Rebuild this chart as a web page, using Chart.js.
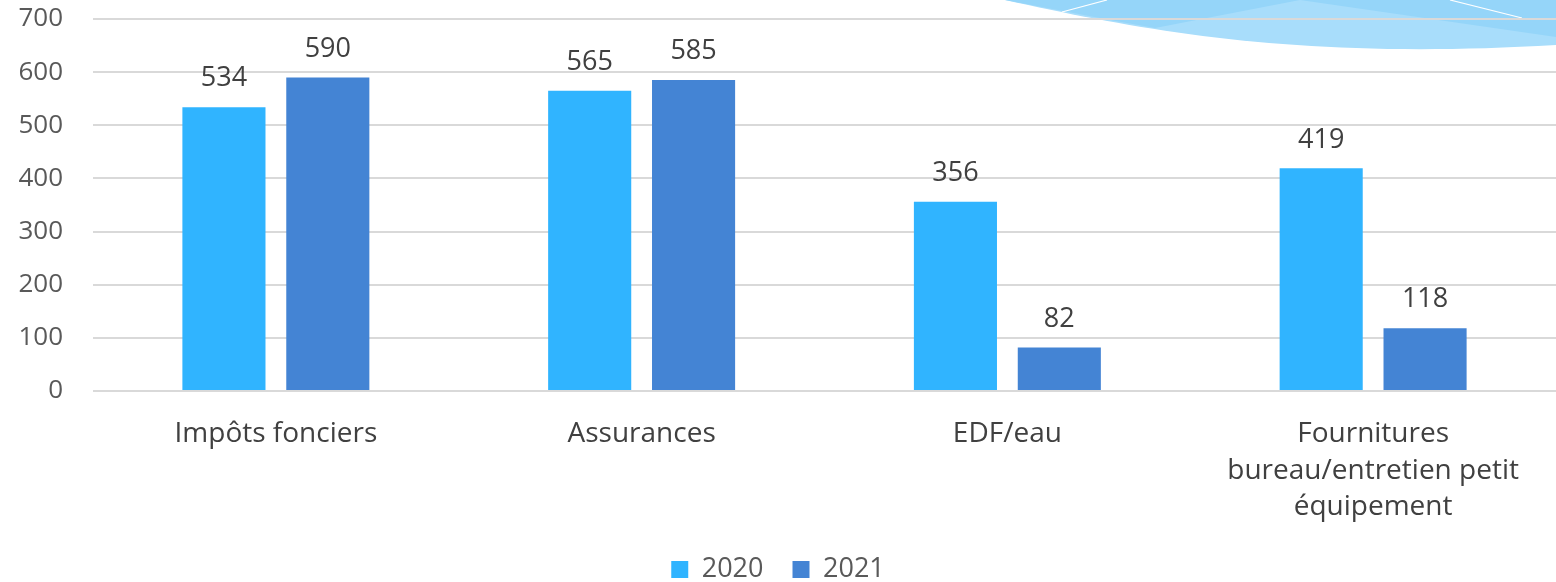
<!DOCTYPE html>
<html>
<head>
<meta charset="utf-8">
<script src="https://cdn.jsdelivr.net/npm/chart.js@4"></script>
<style>
  body { margin: 0; background: #fff; }
  #wrap { width: 1556px; height: 582px; position: relative; }
</style>
</head>
<body>
<div id="wrap"><canvas id="mycanvas"></canvas></div>
<script>
var categories = ['Impôts fonciers', 'Assurances', 'EDF/eau', ['Fournitures', 'bureau/entretien petit', 'équipement']];
var values2020 = [534, 565, 356, 419];
var values2021 = [590, 585, 82, 118];
var seriesNames = ['2020', '2021'];

// light blue swoosh in the top right corner
var swoosh = {
  id: 'swoosh',
  beforeDraw: function(chart) {
    var c = chart.ctx;
    c.save();
    c.fillStyle = '#a8ddfb';
    c.beginPath();
    c.moveTo(1005, 0);
    c.bezierCurveTo(1150, 32, 1300, 60, 1556, 45);
    c.lineTo(1556, 0);
    c.closePath();
    c.fill();

    c.fillStyle = '#95d5f9';
    c.beginPath();
    c.moveTo(1005, 0);
    c.lineTo(1110, 20);
    c.lineTo(1155, 28);
    c.lineTo(1300, 0);
    c.closePath();
    c.fill();
    c.beginPath();
    c.moveTo(1300, 0);
    c.lineTo(1556, 37);
    c.lineTo(1556, 0);
    c.closePath();
    c.fill();

    c.strokeStyle = '#ffffff';
    c.lineWidth = 1.2;
    c.beginPath();
    c.moveTo(1062, 12);
    c.lineTo(1107, 0);
    c.moveTo(1450, 0);
    c.lineTo(1522, 18);
    c.stroke();
    c.restore();
  }
};

var barLabels = {
  id: 'barLabels',
  afterDatasetsDraw: function(chart) {
    var c = chart.ctx;
    c.save();
    c.font = '27px "Open Sans"';
    c.fillStyle = '#404040';
    c.textAlign = 'center';
    c.textBaseline = 'bottom';
    chart.data.datasets.forEach(function(ds, i) {
      chart.getDatasetMeta(i).data.forEach(function(bar, j) {
        c.fillText(ds.data[j], bar.x, bar.y - 15);
      });
    });
    c.restore();
  }
};

var chartdata = {
  labels: categories,
  datasets: [
    { label: seriesNames[0], backgroundColor: '#30b4ff', data: values2020 },
    { label: seriesNames[1], backgroundColor: '#4484d4', data: values2021 }
  ]
};

var ctx = document.getElementById('mycanvas');
new Chart(ctx, {
  type: 'bar',
  data: chartdata,
  plugins: [swoosh, barLabels],
  options: {
    responsive: true,
    maintainAspectRatio: false,
    animation: false,
    layout: { padding: { top: 0, right: 0, left: 0, bottom: -11 } },
    datasets: { bar: { categoryPercentage: 0.568, barPercentage: 0.8 } },
    scales: {
      x: {
        grid: { display: false },
        border: { display: false },
        ticks: { color: '#404040', font: { family: 'Open Sans', size: 28, lineHeight: 1.3 }, padding: 17, maxRotation: 0 },
        afterFit: function(s) { s.height = 136; }
      },
      y: {
        min: 0, max: 700,
        ticks: { stepSize: 100, color: '#595959', font: { family: 'Open Sans', size: 26 }, padding: 30 },
        grid: { color: '#d9d9d9', lineWidth: 2, drawTicks: false },
        border: { display: false },
        afterFit: function(s) { s.width = 93; s.paddingTop = 19; }
      }
    },
    plugins: {
      tooltip: { enabled: false },
      legend: {
        position: 'bottom',
        labels: { color: '#595959', font: { family: 'Open Sans', size: 27 }, boxWidth: 17, boxHeight: 17, padding: 29 }
      }
    }
  }
});
</script>
</body>
</html>
